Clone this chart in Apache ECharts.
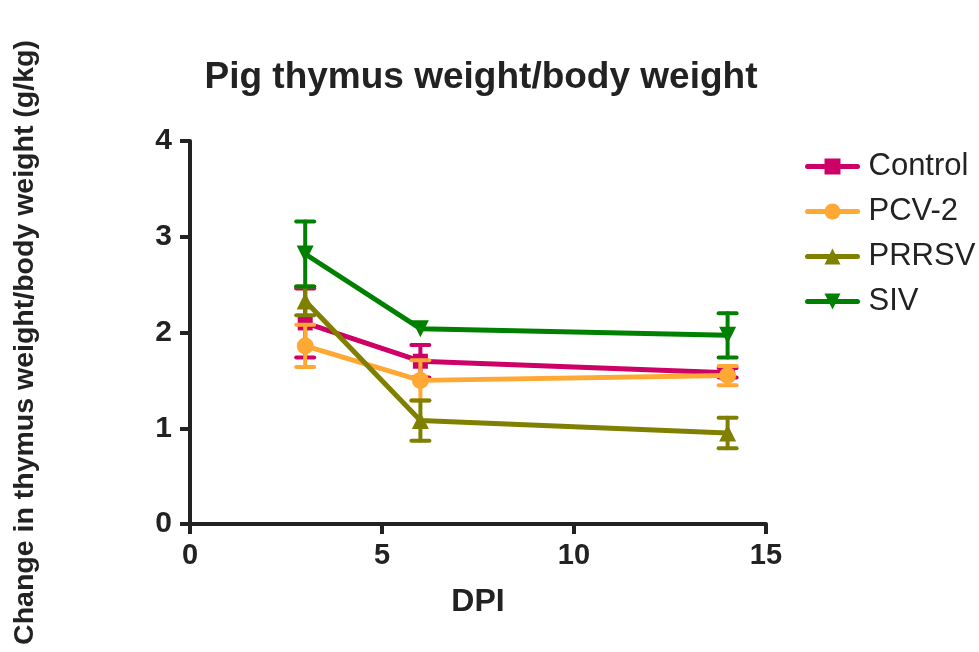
<!DOCTYPE html>
<html>
<head>
<meta charset="utf-8">
<script src="https://cdn.jsdelivr.net/npm/echarts@6/dist/echarts.min.js"></script>
<style>
html,body{margin:0;padding:0;background:#fff;}
#chart{width:979px;height:652px;}
</style>
</head>
<body>
<div id="chart"></div>
<script>
// ---- data ----
const dpi = [3, 6, 14];
const groupNames = ['Control', 'PCV-2', 'PRRSV', 'SIV'];
const controlMean = [2.10, 1.70, 1.58];
const controlSem  = [0.36, 0.17, 0.05];
const pcv2Mean    = [1.86, 1.50, 1.55];
const pcv2Sem     = [0.22, 0.21, 0.10];
const prrsvMean   = [2.33, 1.08, 0.95];
const prrsvSem    = [0.15, 0.21, 0.16];
const sivMean     = [2.82, 2.04, 1.97];
const sivSem      = [0.34, 0.00, 0.23];
const xTicks = [0, 5, 10, 15];
const yTicks = [0, 1, 2, 3, 4];

const means = [controlMean, pcv2Mean, prrsvMean, sivMean];
const sems = [controlSem, pcv2Sem, prrsvSem, sivSem];
const colors = ['#CC0066', '#FFA833', '#808000', '#008000'];
const symbols = ['rect', 'circle', 'triangle', 'triangle'];
const symbolRot = [0, 0, 0, 180];
const symbolSizes = [15, 17, 17, 17];

const FONT = '"Liberation Sans", Arial, Helvetica, sans-serif';

const series = [];
groupNames.forEach((name, i) => {
  const errData = dpi.map((x, k) => [x, means[i][k] - sems[i][k], means[i][k] + sems[i][k]]);
  series.push({
    type: 'custom',
    name: name + '_err',
    z: 2 + i * 2,
    silent: true,
    data: errData,
    encode: {x: 0, y: [1, 2]},
    renderItem: function (params, api) {
      const x = api.value(0);
      if (api.value(2) - api.value(1) <= 0) return {type: 'group', children: []};
      const top = api.coord([x, api.value(2)]);
      const bot = api.coord([x, api.value(1)]);
      const hw = 9;
      const st = {stroke: colors[i], lineWidth: 4, lineCap: 'round'};
      return {
        type: 'group',
        children: [
          {type: 'line', shape: {x1: top[0], y1: top[1], x2: bot[0], y2: bot[1]}, style: st},
          {type: 'line', shape: {x1: top[0] - hw, y1: top[1], x2: top[0] + hw, y2: top[1]}, style: st},
          {type: 'line', shape: {x1: bot[0] - hw, y1: bot[1], x2: bot[0] + hw, y2: bot[1]}, style: st}
        ]
      };
    }
  });
  series.push({
    type: 'line',
    name: name,
    z: 3 + i * 2,
    data: dpi.map((x, k) => [x, means[i][k]]),
    symbol: symbols[i],
    symbolRotate: symbolRot[i],
    symbolSize: symbolSizes[i],
    showAllSymbol: true,
    lineStyle: {color: colors[i], width: 5},
    itemStyle: {color: colors[i], borderWidth: 0},
    emphasis: {disabled: true},
    animation: false
  });
});

const chart = echarts.init(document.getElementById('chart'), null, {renderer: 'canvas'});
chart.setOption({
  animation: false,
  backgroundColor: '#ffffff',
  title: {
    text: 'Pig thymus weight/body weight',
    left: 476,
    top: 54,
    textAlign: 'center',
    textStyle: {fontFamily: FONT, fontWeight: 'bold', fontSize: 37, color: '#222'}
  },
  legend: {
    orient: 'vertical',
    left: 800,
    top: 146,
    itemWidth: 50,
    itemHeight: 20,
    itemGap: 14,
    data: groupNames,
    lineStyle: {width: 5, cap: 'round'},
    textStyle: {fontFamily: FONT, fontSize: 31, color: '#222', lineHeight: 31, padding: [0, 0, 0, 6]}
  },
  grid: {left: 190, right: 213, top: 141, bottom: 128, containLabel: false},
  xAxis: {
    type: 'value',
    min: xTicks[0],
    max: xTicks[xTicks.length - 1],
    interval: 5,
    name: 'DPI',
    nameLocation: 'middle',
    nameGap: 62,
    nameTextStyle: {fontFamily: FONT, fontWeight: 'bold', fontSize: 32, color: '#222'},
    axisLine: {onZero: false, lineStyle: {color: '#222', width: 4}},
    axisTick: {show: true, length: 10, lineStyle: {color: '#222', width: 4}},
    axisLabel: {margin: 17, fontFamily: FONT, fontWeight: 'bold', fontSize: 29, color: '#222'},
    splitLine: {show: false}
  },
  yAxis: {
    type: 'value',
    min: yTicks[0],
    max: yTicks[yTicks.length - 1],
    interval: 1,
    name: 'Change in thymus weight/body weight (g/kg)',
    nameLocation: 'middle',
    nameGap: 150,
    nameTextStyle: {fontFamily: FONT, fontWeight: 'bold', fontSize: 28.5, color: '#222', padding: [0, 20, 0, 0]},
    axisLine: {onZero: false, lineStyle: {color: '#222', width: 4}},
    axisTick: {show: true, length: 10, lineStyle: {color: '#222', width: 4}},
    axisLabel: {margin: 18, fontFamily: FONT, fontWeight: 'bold', fontSize: 30, color: '#222'},
    splitLine: {show: false}
  },
  series: series
});
</script>
</body>
</html>
